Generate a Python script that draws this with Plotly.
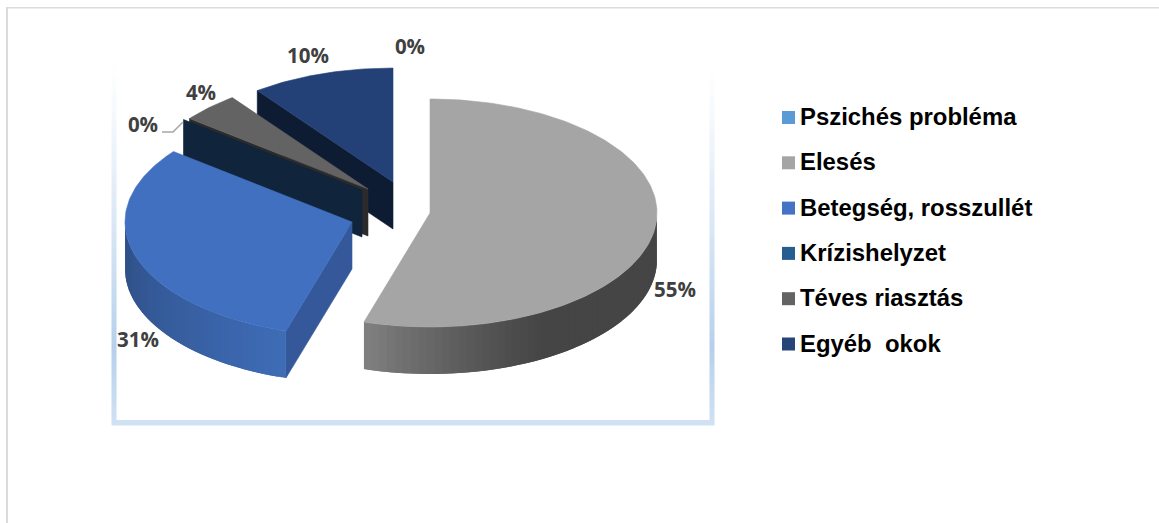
import math
import plotly.graph_objects as go

# ---- data ----
CATEGORIES = ["Pszichés probléma", "Elesés", "Betegség, rosszullét",
              "Krízishelyzet", "Téves riasztás", "Egyéb\u00a0 okok"]
VALUES = [0.0, 54.7, 30.9, 0.0, 4.2, 10.2]

# ---- styling ----
W, H = 1159, 523
RX, RY, DEPTH = 227, 114, 47
LEGEND_COLORS = ["#5B9BD5", "#A5A5A5", "#4472C4", "#255E91", "#636363", "#264478"]
TOP_COLORS = ["#5B9BD5", "#A5A5A5", "#4170C0", "#255E91", "#636363", "#234176"]
CUT_COLORS = ["#10243C", "#454545", "#34589A", "#10243C", "#2B2B2B", "#0D1B33"]
SIDE_FROM = ["#5B9BD5", "#454545", "#2E4D83", "#10243C", "#2B2B2B", "#0D1B33"]
SIDE_TO = ["#5B9BD5", "#7F7F7F", "#3E6CB6", "#10243C", "#2B2B2B", "#0D1B33"]
CENTERS = [(393, 182), (430, 213), (352, 222), (362, 190), (368, 189), (393, 182)]
LABEL_AT = [(410, 49), (675, 292), (138, 342), (143, 127), (201, 95), (308, 58)]
DRAW_ORDER = [0, 5, 4, 3, 2, 1]
LEADER_X, LEADER_Y = [162, 173, 183], [132, 132, 122]
LEGEND_MARK_X, LEGEND_TEXT_X, LEGEND_Y0, LEGEND_DY = 788.5, 798, 117.5, 45.3


def hex2rgb(c):
    return tuple(int(c[i:i + 2], 16) for i in (1, 3, 5))


def mix(a, b, t):
    ra, rb = hex2rgb(a), hex2rgb(b)
    return "rgb(%d,%d,%d)" % tuple(round(x + (y - x) * t) for x, y in zip(ra, rb))


def pt(c, deg, dz=0):
    r = math.radians(deg)
    return c[0] + RX * math.sin(r), c[1] - RY * math.cos(r) + dz


def arc(c, a0, a1, dz=0, step=1.0):
    n = max(1, int(abs(a1 - a0) / step))
    return [pt(c, a0 + (a1 - a0) * i / n, dz) for i in range(n + 1)]


def poly(fig, pts, color, lw=0.6):
    fig.add_trace(go.Scatter(
        x=[p[0] for p in pts] + [pts[0][0]], y=[p[1] for p in pts] + [pts[0][1]],
        mode="lines", fill="toself", fillcolor=color,
        line=dict(color=color, width=lw), hoverinfo="skip", showlegend=False))


fig = go.Figure()

# slice angles from the values
total = sum(VALUES)
starts, ends, cum = [], [], 0.0
for v in VALUES:
    starts.append(cum / total * 360)
    cum += v
    ends.append(cum / total * 360)

for i in DRAW_ORDER:
    a0, a1, c = starts[i], ends[i], CENTERS[i]
    # cut face at the start of the slice, seen only if it faces the viewer
    if math.sin(math.radians(a0)) < -1e-6:
        poly(fig, [c, pt(c, a0), pt(c, a0, DEPTH), (c[0], c[1] + DEPTH)], CUT_COLORS[i])
    # outer wall: the part on the front half of the ellipse, shaded in overlapping strips
    w0, w1 = max(a0, 90), min(a1, 270)
    if w1 > w0:
        n = max(1, int((w1 - w0) / 2))
        for k in range(n):
            s0 = w0 + (w1 - w0) * k / n
            s1 = w0 + (w1 - w0) * (k + 1) / n
            if i == 1:
                t = max(0.0, (s1 - 150) / (w1 - 150)) ** 1.3
            else:
                t = 1 - (k + 0.5) / n
            s1x = min(w1, s1 + 2.0)
            poly(fig, arc(c, s0, s1x) + arc(c, s1x, s0, DEPTH), mix(SIDE_FROM[i], SIDE_TO[i], t), lw=0)
    # top face
    if a1 > a0:
        poly(fig, [c] + arc(c, a0, a1), TOP_COLORS[i])

# leader line of the small label
fig.add_trace(go.Scatter(x=LEADER_X, y=LEADER_Y, mode="lines",
                         line=dict(color="#A6A6A6", width=1.5),
                         hoverinfo="skip", showlegend=False))

# percentage labels
fig.add_trace(go.Scatter(
    x=[p[0] for p in LABEL_AT], y=[p[1] for p in LABEL_AT], mode="text",
    text=[f"{v:.0f}%" for v in VALUES], textposition="middle center",
    textfont=dict(family="Open Sans", size=20.5, color="#404040", weight=700),
    hoverinfo="skip", showlegend=False))

# legend
annotations = []
for i, name in enumerate(CATEGORIES):
    y = LEGEND_Y0 + LEGEND_DY * i
    fig.add_trace(go.Scatter(x=[LEGEND_MARK_X], y=[y], mode="markers",
                             marker=dict(symbol="square", size=13, color=LEGEND_COLORS[i]),
                             hoverinfo="skip", showlegend=False))
    annotations.append(dict(x=LEGEND_TEXT_X, y=y - 1, xref="x", yref="y", text=name,
                            showarrow=False, xanchor="left", yanchor="middle",
                            font=dict(family="Liberation Sans", size=23.9, color="#000000", weight=700)))

# frames
shapes = []


def rect(x0, y0, x1, y1, color):
    shapes.append(dict(type="rect", xref="x", yref="y", x0=x0, y0=y0, x1=x1, y1=y1,
                       fillcolor=color, line=dict(width=0), layer="below"))


rect(6, 7, W, 8.6, "#DBDBDB")
rect(6, 7, 8, H, "#DBDBDB")
for bar_x, top in ((111.5, 56), (709.5, 58)):
    y = top
    while y < 420:
        if y < 345:
            col = mix("#FFFFFF", "#B6D0EC", ((y - top) / (345 - top)) ** 1.2)
        else:
            col = mix("#B6D0EC", "#CFE1F3", (y - 345) / 75)
        rect(bar_x, y, bar_x + 5, y + 4.5, col)
        y += 4
rect(111.5, 420, 714.5, 425.5, "#CFE1F3")

fig.update_layout(
    width=W, height=H, margin=dict(l=0, r=0, t=0, b=0),
    paper_bgcolor="white", plot_bgcolor="white",
    xaxis=dict(range=[0, W], visible=False, fixedrange=True),
    yaxis=dict(range=[H, 0], visible=False, fixedrange=True),
    showlegend=False, shapes=shapes, annotations=annotations,
)
fig.write_html("out.html", config={"displayModeBar": False},
               post_script="document.body.style.margin='0';document.body.style.overflow='hidden';")
